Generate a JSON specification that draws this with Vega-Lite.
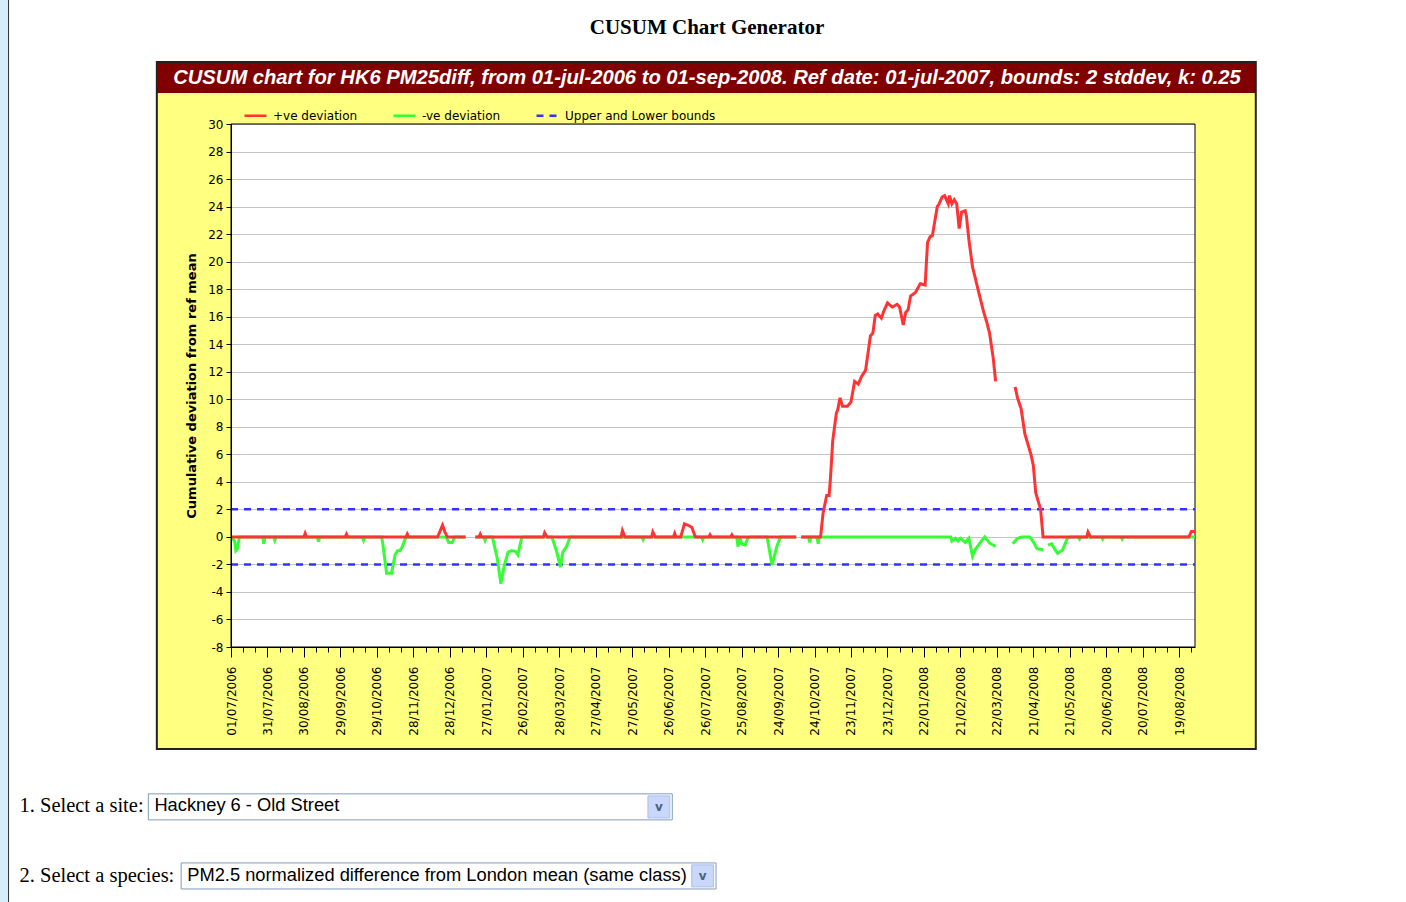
{
  "$schema": "https://vega.github.io/schema/vega-lite/v6.json",
  "width": 964,
  "height": 523,
  "autosize": {"type": "none"},
  "padding": {"left": 231, "top": 124, "right": 211, "bottom": 255},
  "background": "white",
  "config": {"view": {"fill": "white", "stroke": null}, "font": "DejaVu Sans"},
  "title": {
    "text": "CUSUM Chart Generator",
    "subtitle": "CUSUM chart for HK6 PM25diff, from 01-jul-2006 to 01-sep-2008. Ref date: 01-jul-2007, bounds: 2 stddev, k: 0.25",
    "anchor": "middle",
    "frame": "group",
    "dx": -6,
    "offset": -89.7,
    "font": "Liberation Serif",
    "fontSize": 21,
    "fontWeight": "bold",
    "color": "black",
    "subtitleFont": "Liberation Sans",
    "subtitleFontSize": 20.2,
    "subtitleFontStyle": "italic",
    "subtitleFontWeight": "bold",
    "subtitleColor": "white",
    "subtitlePadding": 30
  },
  "data": {"values": [{"part": "frame"}]},
  "datasets": {
    "cusum": [
      {"date": "2006-07-01", "series": "+ve deviation", "value": 0},
      {"date": "2006-08-30", "series": "+ve deviation", "value": 0},
      {"date": "2006-08-31", "series": "+ve deviation", "value": 0.25},
      {"date": "2006-09-01", "series": "+ve deviation", "value": 0},
      {"date": "2006-10-03", "series": "+ve deviation", "value": 0},
      {"date": "2006-10-04", "series": "+ve deviation", "value": 0.2},
      {"date": "2006-10-05", "series": "+ve deviation", "value": 0},
      {"date": "2006-11-22", "series": "+ve deviation", "value": 0},
      {"date": "2006-11-23", "series": "+ve deviation", "value": 0.2},
      {"date": "2006-11-24", "series": "+ve deviation", "value": 0},
      {"date": "2006-12-18", "series": "+ve deviation", "value": 0},
      {"date": "2006-12-22", "series": "+ve deviation", "value": 0.85},
      {"date": "2006-12-24", "series": "+ve deviation", "value": 0.35},
      {"date": "2006-12-26", "series": "+ve deviation", "value": 0},
      {"date": "2007-01-10", "series": "+ve deviation", "value": 0},
      {"date": "2007-01-14", "series": "+ve deviation", "value": null},
      {"date": "2007-01-18", "series": "+ve deviation", "value": 0},
      {"date": "2007-01-21", "series": "+ve deviation", "value": 0},
      {"date": "2007-01-22", "series": "+ve deviation", "value": 0.2},
      {"date": "2007-01-23", "series": "+ve deviation", "value": 0},
      {"date": "2007-03-15", "series": "+ve deviation", "value": 0},
      {"date": "2007-03-16", "series": "+ve deviation", "value": 0.3},
      {"date": "2007-03-18", "series": "+ve deviation", "value": 0},
      {"date": "2007-05-18", "series": "+ve deviation", "value": 0},
      {"date": "2007-05-19", "series": "+ve deviation", "value": 0.45},
      {"date": "2007-05-21", "series": "+ve deviation", "value": 0},
      {"date": "2007-06-12", "series": "+ve deviation", "value": 0},
      {"date": "2007-06-13", "series": "+ve deviation", "value": 0.35},
      {"date": "2007-06-15", "series": "+ve deviation", "value": 0},
      {"date": "2007-06-30", "series": "+ve deviation", "value": 0},
      {"date": "2007-07-01", "series": "+ve deviation", "value": 0.25},
      {"date": "2007-07-02", "series": "+ve deviation", "value": 0},
      {"date": "2007-07-06", "series": "+ve deviation", "value": 0},
      {"date": "2007-07-09", "series": "+ve deviation", "value": 0.95},
      {"date": "2007-07-12", "series": "+ve deviation", "value": 0.85},
      {"date": "2007-07-15", "series": "+ve deviation", "value": 0.7},
      {"date": "2007-07-18", "series": "+ve deviation", "value": 0},
      {"date": "2007-07-29", "series": "+ve deviation", "value": 0},
      {"date": "2007-07-30", "series": "+ve deviation", "value": 0.15},
      {"date": "2007-07-31", "series": "+ve deviation", "value": 0},
      {"date": "2007-08-16", "series": "+ve deviation", "value": 0},
      {"date": "2007-08-17", "series": "+ve deviation", "value": 0.15},
      {"date": "2007-08-18", "series": "+ve deviation", "value": 0},
      {"date": "2007-10-09", "series": "+ve deviation", "value": 0},
      {"date": "2007-10-11", "series": "+ve deviation", "value": null},
      {"date": "2007-10-13", "series": "+ve deviation", "value": 0},
      {"date": "2007-10-29", "series": "+ve deviation", "value": 0},
      {"date": "2007-10-31", "series": "+ve deviation", "value": 1.7},
      {"date": "2007-11-03", "series": "+ve deviation", "value": 3.0},
      {"date": "2007-11-05", "series": "+ve deviation", "value": 3.0},
      {"date": "2007-11-06", "series": "+ve deviation", "value": 4.1},
      {"date": "2007-11-08", "series": "+ve deviation", "value": 7.0},
      {"date": "2007-11-11", "series": "+ve deviation", "value": 9.0},
      {"date": "2007-11-12", "series": "+ve deviation", "value": 9.2},
      {"date": "2007-11-14", "series": "+ve deviation", "value": 10.1},
      {"date": "2007-11-16", "series": "+ve deviation", "value": 9.5},
      {"date": "2007-11-20", "series": "+ve deviation", "value": 9.5},
      {"date": "2007-11-23", "series": "+ve deviation", "value": 9.8},
      {"date": "2007-11-26", "series": "+ve deviation", "value": 11.3},
      {"date": "2007-11-29", "series": "+ve deviation", "value": 11.1},
      {"date": "2007-12-02", "series": "+ve deviation", "value": 11.7},
      {"date": "2007-12-05", "series": "+ve deviation", "value": 12.1},
      {"date": "2007-12-09", "series": "+ve deviation", "value": 14.6},
      {"date": "2007-12-11", "series": "+ve deviation", "value": 14.8},
      {"date": "2007-12-13", "series": "+ve deviation", "value": 16.1},
      {"date": "2007-12-15", "series": "+ve deviation", "value": 16.2},
      {"date": "2007-12-18", "series": "+ve deviation", "value": 15.9},
      {"date": "2007-12-20", "series": "+ve deviation", "value": 16.4},
      {"date": "2007-12-23", "series": "+ve deviation", "value": 17.0},
      {"date": "2007-12-27", "series": "+ve deviation", "value": 16.7},
      {"date": "2007-12-31", "series": "+ve deviation", "value": 16.9},
      {"date": "2008-01-02", "series": "+ve deviation", "value": 16.7},
      {"date": "2008-01-05", "series": "+ve deviation", "value": 15.4},
      {"date": "2008-01-07", "series": "+ve deviation", "value": 16.3},
      {"date": "2008-01-09", "series": "+ve deviation", "value": 16.5},
      {"date": "2008-01-11", "series": "+ve deviation", "value": 17.5},
      {"date": "2008-01-15", "series": "+ve deviation", "value": 17.75},
      {"date": "2008-01-19", "series": "+ve deviation", "value": 18.4},
      {"date": "2008-01-23", "series": "+ve deviation", "value": 18.3},
      {"date": "2008-01-25", "series": "+ve deviation", "value": 21.4},
      {"date": "2008-01-27", "series": "+ve deviation", "value": 21.8},
      {"date": "2008-01-29", "series": "+ve deviation", "value": 21.9},
      {"date": "2008-02-02", "series": "+ve deviation", "value": 24.0},
      {"date": "2008-02-03", "series": "+ve deviation", "value": 24.1},
      {"date": "2008-02-06", "series": "+ve deviation", "value": 24.7},
      {"date": "2008-02-08", "series": "+ve deviation", "value": 24.8},
      {"date": "2008-02-11", "series": "+ve deviation", "value": 24.2},
      {"date": "2008-02-12", "series": "+ve deviation", "value": 24.8},
      {"date": "2008-02-14", "series": "+ve deviation", "value": 24.2},
      {"date": "2008-02-16", "series": "+ve deviation", "value": 24.5},
      {"date": "2008-02-18", "series": "+ve deviation", "value": 24.2},
      {"date": "2008-02-20", "series": "+ve deviation", "value": 22.4},
      {"date": "2008-02-22", "series": "+ve deviation", "value": 23.6},
      {"date": "2008-02-25", "series": "+ve deviation", "value": 23.7},
      {"date": "2008-02-26", "series": "+ve deviation", "value": 23.3},
      {"date": "2008-02-28", "series": "+ve deviation", "value": 21.6},
      {"date": "2008-03-02", "series": "+ve deviation", "value": 19.6},
      {"date": "2008-03-04", "series": "+ve deviation", "value": 18.9},
      {"date": "2008-03-07", "series": "+ve deviation", "value": 17.8},
      {"date": "2008-03-11", "series": "+ve deviation", "value": 16.4},
      {"date": "2008-03-14", "series": "+ve deviation", "value": 15.5},
      {"date": "2008-03-16", "series": "+ve deviation", "value": 14.8},
      {"date": "2008-03-19", "series": "+ve deviation", "value": 13.0},
      {"date": "2008-03-21", "series": "+ve deviation", "value": 11.3},
      {"date": "2008-03-27", "series": "+ve deviation", "value": null},
      {"date": "2008-04-06", "series": "+ve deviation", "value": 10.9},
      {"date": "2008-04-08", "series": "+ve deviation", "value": 10.1},
      {"date": "2008-04-11", "series": "+ve deviation", "value": 9.3},
      {"date": "2008-04-14", "series": "+ve deviation", "value": 7.5},
      {"date": "2008-04-19", "series": "+ve deviation", "value": 6.0},
      {"date": "2008-04-21", "series": "+ve deviation", "value": 5.2},
      {"date": "2008-04-23", "series": "+ve deviation", "value": 3.2},
      {"date": "2008-04-27", "series": "+ve deviation", "value": 2.0},
      {"date": "2008-04-29", "series": "+ve deviation", "value": 0},
      {"date": "2008-06-04", "series": "+ve deviation", "value": 0},
      {"date": "2008-06-05", "series": "+ve deviation", "value": 0.35},
      {"date": "2008-06-07", "series": "+ve deviation", "value": 0},
      {"date": "2008-08-27", "series": "+ve deviation", "value": 0},
      {"date": "2008-08-29", "series": "+ve deviation", "value": 0.4},
      {"date": "2008-09-01", "series": "+ve deviation", "value": 0.4},
      {"date": "2006-07-01", "series": "-ve deviation", "value": 0},
      {"date": "2006-07-04", "series": "-ve deviation", "value": -0.3},
      {"date": "2006-07-05", "series": "-ve deviation", "value": -1.0},
      {"date": "2006-07-06", "series": "-ve deviation", "value": -0.9},
      {"date": "2006-07-08", "series": "-ve deviation", "value": 0},
      {"date": "2006-07-27", "series": "-ve deviation", "value": 0},
      {"date": "2006-07-28", "series": "-ve deviation", "value": -0.5},
      {"date": "2006-07-29", "series": "-ve deviation", "value": 0},
      {"date": "2006-08-05", "series": "-ve deviation", "value": 0},
      {"date": "2006-08-06", "series": "-ve deviation", "value": -0.25},
      {"date": "2006-08-07", "series": "-ve deviation", "value": 0},
      {"date": "2006-09-10", "series": "-ve deviation", "value": 0},
      {"date": "2006-09-11", "series": "-ve deviation", "value": -0.35},
      {"date": "2006-09-12", "series": "-ve deviation", "value": 0},
      {"date": "2006-10-17", "series": "-ve deviation", "value": 0},
      {"date": "2006-10-18", "series": "-ve deviation", "value": -0.25},
      {"date": "2006-10-19", "series": "-ve deviation", "value": 0},
      {"date": "2006-11-02", "series": "-ve deviation", "value": 0},
      {"date": "2006-11-03", "series": "-ve deviation", "value": -0.6},
      {"date": "2006-11-06", "series": "-ve deviation", "value": -2.65},
      {"date": "2006-11-10", "series": "-ve deviation", "value": -2.65},
      {"date": "2006-11-13", "series": "-ve deviation", "value": -1.3},
      {"date": "2006-11-15", "series": "-ve deviation", "value": -1.0},
      {"date": "2006-11-17", "series": "-ve deviation", "value": -1.0},
      {"date": "2006-11-19", "series": "-ve deviation", "value": -0.7},
      {"date": "2006-11-21", "series": "-ve deviation", "value": -0.2},
      {"date": "2006-11-23", "series": "-ve deviation", "value": 0},
      {"date": "2006-12-25", "series": "-ve deviation", "value": 0},
      {"date": "2006-12-27", "series": "-ve deviation", "value": -0.4},
      {"date": "2006-12-30", "series": "-ve deviation", "value": -0.4},
      {"date": "2007-01-01", "series": "-ve deviation", "value": 0},
      {"date": "2007-01-10", "series": "-ve deviation", "value": 0},
      {"date": "2007-01-14", "series": "-ve deviation", "value": null},
      {"date": "2007-01-18", "series": "-ve deviation", "value": 0},
      {"date": "2007-01-25", "series": "-ve deviation", "value": 0},
      {"date": "2007-01-26", "series": "-ve deviation", "value": -0.25},
      {"date": "2007-01-27", "series": "-ve deviation", "value": 0},
      {"date": "2007-02-01", "series": "-ve deviation", "value": 0},
      {"date": "2007-02-05", "series": "-ve deviation", "value": -1.55},
      {"date": "2007-02-08", "series": "-ve deviation", "value": -3.4},
      {"date": "2007-02-11", "series": "-ve deviation", "value": -2.0},
      {"date": "2007-02-14", "series": "-ve deviation", "value": -1.1},
      {"date": "2007-02-17", "series": "-ve deviation", "value": -1.0},
      {"date": "2007-02-20", "series": "-ve deviation", "value": -1.05},
      {"date": "2007-02-22", "series": "-ve deviation", "value": -1.3},
      {"date": "2007-02-25", "series": "-ve deviation", "value": -0.1},
      {"date": "2007-02-26", "series": "-ve deviation", "value": 0},
      {"date": "2007-03-22", "series": "-ve deviation", "value": 0},
      {"date": "2007-03-26", "series": "-ve deviation", "value": -1.1},
      {"date": "2007-03-29", "series": "-ve deviation", "value": -2.2},
      {"date": "2007-03-31", "series": "-ve deviation", "value": -1.1},
      {"date": "2007-04-03", "series": "-ve deviation", "value": -0.7},
      {"date": "2007-04-06", "series": "-ve deviation", "value": 0},
      {"date": "2007-06-04", "series": "-ve deviation", "value": 0},
      {"date": "2007-06-05", "series": "-ve deviation", "value": -0.2},
      {"date": "2007-06-06", "series": "-ve deviation", "value": 0},
      {"date": "2007-07-23", "series": "-ve deviation", "value": 0},
      {"date": "2007-07-24", "series": "-ve deviation", "value": -0.2},
      {"date": "2007-07-25", "series": "-ve deviation", "value": 0},
      {"date": "2007-08-21", "series": "-ve deviation", "value": 0},
      {"date": "2007-08-22", "series": "-ve deviation", "value": -0.7},
      {"date": "2007-08-24", "series": "-ve deviation", "value": -0.1},
      {"date": "2007-08-25", "series": "-ve deviation", "value": -0.5},
      {"date": "2007-08-28", "series": "-ve deviation", "value": -0.6},
      {"date": "2007-08-30", "series": "-ve deviation", "value": -0.1},
      {"date": "2007-09-01", "series": "-ve deviation", "value": 0},
      {"date": "2007-09-15", "series": "-ve deviation", "value": 0},
      {"date": "2007-09-19", "series": "-ve deviation", "value": -2.05},
      {"date": "2007-09-23", "series": "-ve deviation", "value": -0.7},
      {"date": "2007-09-26", "series": "-ve deviation", "value": 0},
      {"date": "2007-10-09", "series": "-ve deviation", "value": 0},
      {"date": "2007-10-11", "series": "-ve deviation", "value": null},
      {"date": "2007-10-13", "series": "-ve deviation", "value": 0},
      {"date": "2007-10-19", "series": "-ve deviation", "value": 0},
      {"date": "2007-10-20", "series": "-ve deviation", "value": -0.4},
      {"date": "2007-10-21", "series": "-ve deviation", "value": 0},
      {"date": "2007-10-26", "series": "-ve deviation", "value": 0},
      {"date": "2007-10-27", "series": "-ve deviation", "value": -0.5},
      {"date": "2007-10-28", "series": "-ve deviation", "value": 0},
      {"date": "2008-02-13", "series": "-ve deviation", "value": 0},
      {"date": "2008-02-14", "series": "-ve deviation", "value": -0.3},
      {"date": "2008-02-17", "series": "-ve deviation", "value": -0.1},
      {"date": "2008-02-19", "series": "-ve deviation", "value": -0.3},
      {"date": "2008-02-21", "series": "-ve deviation", "value": -0.1},
      {"date": "2008-02-25", "series": "-ve deviation", "value": -0.4},
      {"date": "2008-02-28", "series": "-ve deviation", "value": -0.1},
      {"date": "2008-03-02", "series": "-ve deviation", "value": -1.4},
      {"date": "2008-03-04", "series": "-ve deviation", "value": -0.95},
      {"date": "2008-03-08", "series": "-ve deviation", "value": -0.45},
      {"date": "2008-03-12", "series": "-ve deviation", "value": 0},
      {"date": "2008-03-16", "series": "-ve deviation", "value": -0.45},
      {"date": "2008-03-21", "series": "-ve deviation", "value": -0.7},
      {"date": "2008-03-27", "series": "-ve deviation", "value": null},
      {"date": "2008-04-04", "series": "-ve deviation", "value": -0.5},
      {"date": "2008-04-08", "series": "-ve deviation", "value": -0.1},
      {"date": "2008-04-12", "series": "-ve deviation", "value": 0},
      {"date": "2008-04-18", "series": "-ve deviation", "value": 0},
      {"date": "2008-04-21", "series": "-ve deviation", "value": -0.35},
      {"date": "2008-04-24", "series": "-ve deviation", "value": -0.85},
      {"date": "2008-04-29", "series": "-ve deviation", "value": -0.95},
      {"date": "2008-05-01", "series": "-ve deviation", "value": null},
      {"date": "2008-05-03", "series": "-ve deviation", "value": -0.6},
      {"date": "2008-05-06", "series": "-ve deviation", "value": -0.5},
      {"date": "2008-05-09", "series": "-ve deviation", "value": -0.95},
      {"date": "2008-05-11", "series": "-ve deviation", "value": -1.2},
      {"date": "2008-05-15", "series": "-ve deviation", "value": -0.95},
      {"date": "2008-05-19", "series": "-ve deviation", "value": -0.1},
      {"date": "2008-05-21", "series": "-ve deviation", "value": 0},
      {"date": "2008-05-28", "series": "-ve deviation", "value": 0},
      {"date": "2008-05-29", "series": "-ve deviation", "value": -0.15},
      {"date": "2008-05-30", "series": "-ve deviation", "value": 0},
      {"date": "2008-06-16", "series": "-ve deviation", "value": 0},
      {"date": "2008-06-17", "series": "-ve deviation", "value": -0.15},
      {"date": "2008-06-18", "series": "-ve deviation", "value": 0},
      {"date": "2008-07-02", "series": "-ve deviation", "value": 0},
      {"date": "2008-07-03", "series": "-ve deviation", "value": -0.15},
      {"date": "2008-07-04", "series": "-ve deviation", "value": 0},
      {"date": "2008-09-01", "series": "-ve deviation", "value": 0}
    ],
    "bounds": [
      {"date": "2006-07-01", "series": "Upper and Lower bounds", "line": "upper", "value": 2},
      {"date": "2008-09-01", "series": "Upper and Lower bounds", "line": "upper", "value": 2},
      {"date": "2006-07-01", "series": "Upper and Lower bounds", "line": "lower", "value": -2},
      {"date": "2008-09-01", "series": "Upper and Lower bounds", "line": "lower", "value": -2}
    ]
  },
  "resolve": {"axis": {"x": "independent", "y": "independent"}},
  "layer": [
    {
      "mark": {"type": "rect", "fill": "#d6eef8", "stroke": "#333333", "strokeWidth": 1},
      "encoding": {
        "x": {"datum": {"year": 2005, "month": 12, "date": 20, "utc": true}, "type": "temporal", "axis": null, "scale": {"type": "utc", "domain": [{"year": 2006, "month": 7, "date": 1, "utc": true}, {"year": 2008, "month": 9, "date": 1, "utc": true}]}},
        "x2": {"datum": {"year": 2005, "month": 12, "date": 30, "utc": true}},
        "y": {"datum": 39.1, "type": "quantitative", "axis": null, "scale": {"domain": [-8, 30], "nice": false, "zero": false}},
        "y2": {"datum": -27}
      }
    },
    {
      "mark": {"type": "rect", "fill": "#ffff80"},
      "encoding": {
        "x": {"datum": {"year": 2006, "month": 5, "date": 1, "utc": true}, "type": "temporal", "axis": null, "scale": {"type": "utc", "domain": [{"year": 2006, "month": 7, "date": 1, "utc": true}, {"year": 2008, "month": 9, "date": 1, "utc": true}]}},
        "x2": {"datum": {"year": 2008, "month": 10, "date": 21, "utc": true}},
        "y": {"datum": 30, "type": "quantitative", "axis": null, "scale": {"domain": [-8, 30], "nice": false, "zero": false}},
        "y2": {"datum": 32.25}
      }
    },
    {
      "mark": {"type": "rect", "fill": "#ffff80"},
      "encoding": {
        "x": {"datum": {"year": 2006, "month": 5, "date": 1, "utc": true}, "type": "temporal", "axis": null, "scale": {"type": "utc", "domain": [{"year": 2006, "month": 7, "date": 1, "utc": true}, {"year": 2008, "month": 9, "date": 1, "utc": true}]}},
        "x2": {"datum": {"year": 2008, "month": 10, "date": 21, "utc": true}},
        "y": {"datum": -15.41, "type": "quantitative", "axis": null, "scale": {"domain": [-8, 30], "nice": false, "zero": false}},
        "y2": {"datum": -8}
      }
    },
    {
      "mark": {"type": "rect", "fill": "#ffff80"},
      "encoding": {
        "x": {"datum": {"year": 2006, "month": 5, "date": 1, "utc": true}, "type": "temporal", "axis": null, "scale": {"type": "utc", "domain": [{"year": 2006, "month": 7, "date": 1, "utc": true}, {"year": 2008, "month": 9, "date": 1, "utc": true}]}},
        "x2": {"datum": {"year": 2006, "month": 7, "date": 1, "utc": true}},
        "y": {"datum": -8, "type": "quantitative", "axis": null, "scale": {"domain": [-8, 30], "nice": false, "zero": false}},
        "y2": {"datum": 30}
      }
    },
    {
      "mark": {"type": "rect", "fill": "#ffff80"},
      "encoding": {
        "x": {"datum": {"year": 2008, "month": 9, "date": 1, "utc": true}, "type": "temporal", "axis": null, "scale": {"type": "utc", "domain": [{"year": 2006, "month": 7, "date": 1, "utc": true}, {"year": 2008, "month": 9, "date": 1, "utc": true}]}},
        "x2": {"datum": {"year": 2008, "month": 10, "date": 21, "utc": true}},
        "y": {"datum": -8, "type": "quantitative", "axis": null, "scale": {"domain": [-8, 30], "nice": false, "zero": false}},
        "y2": {"datum": 30}
      }
    },
    {
      "mark": {"type": "rect", "fill": "#800000"},
      "encoding": {
        "x": {"datum": {"year": 2006, "month": 5, "date": 1, "utc": true}, "type": "temporal", "axis": null, "scale": {"type": "utc", "domain": [{"year": 2006, "month": 7, "date": 1, "utc": true}, {"year": 2008, "month": 9, "date": 1, "utc": true}]}},
        "x2": {"datum": {"year": 2008, "month": 10, "date": 21, "utc": true}},
        "y": {"datum": 32.25, "type": "quantitative", "axis": null, "scale": {"domain": [-8, 30], "nice": false, "zero": false}},
        "y2": {"datum": 34.5}
      }
    },
    {
      "mark": {"type": "rect", "fill": "transparent", "stroke": "#222222", "strokeWidth": 2},
      "encoding": {
        "x": {"datum": {"year": 2006, "month": 5, "date": 1, "utc": true}, "type": "temporal", "axis": null, "scale": {"type": "utc", "domain": [{"year": 2006, "month": 7, "date": 1, "utc": true}, {"year": 2008, "month": 9, "date": 1, "utc": true}]}},
        "x2": {"datum": {"year": 2008, "month": 10, "date": 21, "utc": true}},
        "y": {"datum": -15.41, "type": "quantitative", "axis": null, "scale": {"domain": [-8, 30], "nice": false, "zero": false}},
        "y2": {"datum": 34.5}
      }
    },
    {
      "mark": {"type": "rect", "fill": "transparent", "stroke": "black", "strokeWidth": 1},
      "encoding": {
        "x": {"datum": {"year": 2006, "month": 7, "date": 1, "utc": true}, "type": "temporal", "axis": null, "scale": {"type": "utc", "domain": [{"year": 2006, "month": 7, "date": 1, "utc": true}, {"year": 2008, "month": 9, "date": 1, "utc": true}]}},
        "x2": {"datum": {"year": 2008, "month": 9, "date": 1, "utc": true}},
        "y": {"datum": -8, "type": "quantitative", "axis": null, "scale": {"domain": [-8, 30], "nice": false, "zero": false}},
        "y2": {"datum": 30}
      }
    },
    {
      "mark": {"type": "rect", "fill": "white", "stroke": "#7f9db9", "strokeWidth": 1},
      "encoding": {
        "x": {"datum": {"year": 2006, "month": 4, "date": 24, "utc": true}, "type": "temporal", "axis": null, "scale": {"type": "utc", "domain": [{"year": 2006, "month": 7, "date": 1, "utc": true}, {"year": 2008, "month": 9, "date": 1, "utc": true}]}},
        "x2": {"datum": {"year": 2007, "month": 6, "date": 29, "utc": true}},
        "y": {"datum": -18.67, "type": "quantitative", "axis": null, "scale": {"domain": [-8, 30], "nice": false, "zero": false}},
        "y2": {"datum": -20.56}
      }
    },
    {
      "mark": {"type": "rect", "fill": "white", "stroke": "#7f9db9", "strokeWidth": 1},
      "encoding": {
        "x": {"datum": {"year": 2006, "month": 5, "date": 21, "utc": true}, "type": "temporal", "axis": null, "scale": {"type": "utc", "domain": [{"year": 2006, "month": 7, "date": 1, "utc": true}, {"year": 2008, "month": 9, "date": 1, "utc": true}]}},
        "x2": {"datum": {"year": 2007, "month": 8, "date": 4, "utc": true}},
        "y": {"datum": -23.69, "type": "quantitative", "axis": null, "scale": {"domain": [-8, 30], "nice": false, "zero": false}},
        "y2": {"datum": -25.58}
      }
    },
    {
      "mark": {"type": "rect", "fill": "#c9d8fa", "stroke": "#a9bde8", "strokeWidth": 1},
      "encoding": {
        "x": {"datum": {"year": 2007, "month": 6, "date": 9, "utc": true}, "type": "temporal", "axis": null, "scale": {"type": "utc", "domain": [{"year": 2006, "month": 7, "date": 1, "utc": true}, {"year": 2008, "month": 9, "date": 1, "utc": true}]}},
        "x2": {"datum": {"year": 2007, "month": 6, "date": 27, "utc": true}},
        "y": {"datum": -18.82, "type": "quantitative", "axis": null, "scale": {"domain": [-8, 30], "nice": false, "zero": false}},
        "y2": {"datum": -20.42}
      }
    },
    {
      "mark": {"type": "rect", "fill": "#c9d8fa", "stroke": "#a9bde8", "strokeWidth": 1},
      "encoding": {
        "x": {"datum": {"year": 2007, "month": 7, "date": 15, "utc": true}, "type": "temporal", "axis": null, "scale": {"type": "utc", "domain": [{"year": 2006, "month": 7, "date": 1, "utc": true}, {"year": 2008, "month": 9, "date": 1, "utc": true}]}},
        "x2": {"datum": {"year": 2007, "month": 8, "date": 2, "utc": true}},
        "y": {"datum": -23.83, "type": "quantitative", "axis": null, "scale": {"domain": [-8, 30], "nice": false, "zero": false}},
        "y2": {"datum": -25.43}
      }
    },
    {
      "mark": {"type": "text", "align": "center", "baseline": "middle", "font": "DejaVu Sans", "fontSize": 12, "fontWeight": "bold", "color": "#4d6185"},
      "encoding": {
        "x": {"datum": {"year": 2007, "month": 6, "date": 18, "utc": true}, "type": "temporal", "axis": null, "scale": {"type": "utc", "domain": [{"year": 2006, "month": 7, "date": 1, "utc": true}, {"year": 2008, "month": 9, "date": 1, "utc": true}]}},
        "y": {"datum": -19.62, "type": "quantitative", "axis": null, "scale": {"domain": [-8, 30], "nice": false, "zero": false}},
        "text": {"value": "v"}
      }
    },
    {
      "mark": {"type": "text", "align": "center", "baseline": "middle", "font": "DejaVu Sans", "fontSize": 12, "fontWeight": "bold", "color": "#4d6185"},
      "encoding": {
        "x": {"datum": {"year": 2007, "month": 7, "date": 24, "utc": true}, "type": "temporal", "axis": null, "scale": {"type": "utc", "domain": [{"year": 2006, "month": 7, "date": 1, "utc": true}, {"year": 2008, "month": 9, "date": 1, "utc": true}]}},
        "y": {"datum": -24.63, "type": "quantitative", "axis": null, "scale": {"domain": [-8, 30], "nice": false, "zero": false}},
        "text": {"value": "v"}
      }
    },
    {
      "mark": {"type": "text", "align": "left", "baseline": "middle", "font": "Liberation Serif", "fontSize": 20.5, "color": "black"},
      "encoding": {
        "x": {"datum": {"year": 2006, "month": 1, "date": 8, "utc": true}, "type": "temporal", "axis": null, "scale": {"type": "utc", "domain": [{"year": 2006, "month": 7, "date": 1, "utc": true}, {"year": 2008, "month": 9, "date": 1, "utc": true}]}},
        "y": {"datum": -19.55, "type": "quantitative", "axis": null, "scale": {"domain": [-8, 30], "nice": false, "zero": false}},
        "text": {"value": "1. Select a site:"}
      }
    },
    {
      "mark": {"type": "text", "align": "left", "baseline": "middle", "font": "Liberation Sans", "fontSize": 18.3, "color": "black"},
      "encoding": {
        "x": {"datum": {"year": 2006, "month": 4, "date": 29, "utc": true}, "type": "temporal", "axis": null, "scale": {"type": "utc", "domain": [{"year": 2006, "month": 7, "date": 1, "utc": true}, {"year": 2008, "month": 9, "date": 1, "utc": true}]}},
        "y": {"datum": -19.55, "type": "quantitative", "axis": null, "scale": {"domain": [-8, 30], "nice": false, "zero": false}},
        "text": {"value": "Hackney 6 - Old Street"}
      }
    },
    {
      "mark": {"type": "text", "align": "left", "baseline": "middle", "font": "Liberation Serif", "fontSize": 20.5, "color": "black"},
      "encoding": {
        "x": {"datum": {"year": 2006, "month": 1, "date": 8, "utc": true}, "type": "temporal", "axis": null, "scale": {"type": "utc", "domain": [{"year": 2006, "month": 7, "date": 1, "utc": true}, {"year": 2008, "month": 9, "date": 1, "utc": true}]}},
        "y": {"datum": -24.63, "type": "quantitative", "axis": null, "scale": {"domain": [-8, 30], "nice": false, "zero": false}},
        "text": {"value": "2. Select a species:"}
      }
    },
    {
      "mark": {"type": "text", "align": "left", "baseline": "middle", "font": "Liberation Sans", "fontSize": 18.3, "color": "black"},
      "encoding": {
        "x": {"datum": {"year": 2006, "month": 5, "date": 26, "utc": true}, "type": "temporal", "axis": null, "scale": {"type": "utc", "domain": [{"year": 2006, "month": 7, "date": 1, "utc": true}, {"year": 2008, "month": 9, "date": 1, "utc": true}]}},
        "y": {"datum": -24.63, "type": "quantitative", "axis": null, "scale": {"domain": [-8, 30], "nice": false, "zero": false}},
        "text": {"value": "PM2.5 normalized difference from London mean (same class)"}
      }
    },
    {
      "data": {"name": "bounds"},
      "mark": {"type": "line", "strokeWidth": 2.5, "invalid": "break-paths-filter-domains"},
      "encoding": {
        "x": {"field": "date", "type": "temporal",
          "scale": {"type": "utc", "domain": [{"year": 2006, "month": 7, "date": 1, "utc": true}, {"year": 2008, "month": 9, "date": 1, "utc": true}]},
          "axis": {"orient": "bottom", "labels": false, "domain": false, "grid": false, "title": null, "tickSize": 5, "tickColor": "black", "tickWidth": 1, "zindex": 1,
            "values": [
              {"year": 2006, "month": 7, "date": 11, "utc": true}, {"year": 2006, "month": 7, "date": 21, "utc": true},
              {"year": 2006, "month": 8, "date": 10, "utc": true}, {"year": 2006, "month": 8, "date": 20, "utc": true},
              {"year": 2006, "month": 9, "date": 9, "utc": true}, {"year": 2006, "month": 9, "date": 19, "utc": true},
              {"year": 2006, "month": 10, "date": 9, "utc": true}, {"year": 2006, "month": 10, "date": 19, "utc": true},
              {"year": 2006, "month": 11, "date": 8, "utc": true}, {"year": 2006, "month": 11, "date": 18, "utc": true},
              {"year": 2006, "month": 12, "date": 8, "utc": true}, {"year": 2006, "month": 12, "date": 18, "utc": true},
              {"year": 2007, "month": 1, "date": 7, "utc": true}, {"year": 2007, "month": 1, "date": 17, "utc": true},
              {"year": 2007, "month": 2, "date": 6, "utc": true}, {"year": 2007, "month": 2, "date": 16, "utc": true},
              {"year": 2007, "month": 3, "date": 8, "utc": true}, {"year": 2007, "month": 3, "date": 18, "utc": true},
              {"year": 2007, "month": 4, "date": 7, "utc": true}, {"year": 2007, "month": 4, "date": 17, "utc": true},
              {"year": 2007, "month": 5, "date": 7, "utc": true}, {"year": 2007, "month": 5, "date": 17, "utc": true},
              {"year": 2007, "month": 6, "date": 6, "utc": true}, {"year": 2007, "month": 6, "date": 16, "utc": true},
              {"year": 2007, "month": 7, "date": 6, "utc": true}, {"year": 2007, "month": 7, "date": 16, "utc": true},
              {"year": 2007, "month": 8, "date": 5, "utc": true}, {"year": 2007, "month": 8, "date": 15, "utc": true},
              {"year": 2007, "month": 9, "date": 4, "utc": true}, {"year": 2007, "month": 9, "date": 14, "utc": true},
              {"year": 2007, "month": 10, "date": 4, "utc": true}, {"year": 2007, "month": 10, "date": 14, "utc": true},
              {"year": 2007, "month": 11, "date": 3, "utc": true}, {"year": 2007, "month": 11, "date": 13, "utc": true},
              {"year": 2007, "month": 12, "date": 3, "utc": true}, {"year": 2007, "month": 12, "date": 13, "utc": true},
              {"year": 2008, "month": 1, "date": 2, "utc": true}, {"year": 2008, "month": 1, "date": 12, "utc": true},
              {"year": 2008, "month": 2, "date": 1, "utc": true}, {"year": 2008, "month": 2, "date": 11, "utc": true},
              {"year": 2008, "month": 3, "date": 2, "utc": true}, {"year": 2008, "month": 3, "date": 12, "utc": true},
              {"year": 2008, "month": 4, "date": 1, "utc": true}, {"year": 2008, "month": 4, "date": 11, "utc": true},
              {"year": 2008, "month": 5, "date": 1, "utc": true}, {"year": 2008, "month": 5, "date": 11, "utc": true},
              {"year": 2008, "month": 5, "date": 31, "utc": true}, {"year": 2008, "month": 6, "date": 10, "utc": true},
              {"year": 2008, "month": 6, "date": 30, "utc": true}, {"year": 2008, "month": 7, "date": 10, "utc": true},
              {"year": 2008, "month": 7, "date": 30, "utc": true}, {"year": 2008, "month": 8, "date": 9, "utc": true},
              {"year": 2008, "month": 8, "date": 29, "utc": true}
            ]}},
        "y": {"field": "value", "type": "quantitative",
          "scale": {"domain": [-8, 30], "nice": false, "zero": false},
          "axis": {"orient": "left", "grid": true, "gridColor": "#c4c4c4", "gridWidth": 1, "labels": false, "ticks": false, "domain": false, "title": null, "zindex": 0,
            "values": [-8, -6, -4, -2, 0, 2, 4, 6, 8, 10, 12, 14, 16, 18, 20, 22, 24, 26, 28, 30]}},
        "detail": {"field": "line"},
        "color": {"field": "series", "type": "nominal",
          "scale": {"domain": ["+ve deviation", "-ve deviation", "Upper and Lower bounds"], "range": ["#ff3333", "#33ff33", "#3333ff"]},
          "legend": {"title": null, "orient": "none", "legendX": 12, "legendY": -21, "direction": "horizontal", "symbolType": "stroke", "symbolSize": 484, "symbolStrokeWidth": 2.5, "labelFont": "DejaVu Sans", "labelFontSize": 12, "labelColor": "black", "labelOffset": 5, "columnPadding": 30, "padding": 0}},
        "strokeDash": {"field": "series", "type": "nominal",
          "scale": {"domain": ["+ve deviation", "-ve deviation", "Upper and Lower bounds"], "range": [[1, 0], [1, 0], [7, 6]]},
          "legend": {"title": null, "orient": "none", "legendX": 12, "legendY": -21, "direction": "horizontal", "symbolType": "stroke", "symbolSize": 484, "symbolStrokeWidth": 2.5, "labelFont": "DejaVu Sans", "labelFontSize": 12, "labelColor": "black", "labelOffset": 5, "columnPadding": 30, "padding": 0}}
      }
    },
    {
      "data": {"name": "cusum"},
      "transform": [{"filter": {"field": "series", "equal": "-ve deviation"}}],
      "mark": {"type": "line", "strokeWidth": 3, "invalid": "break-paths-filter-domains"},
      "encoding": {
        "x": {"field": "date", "type": "temporal", "axis": null,
          "scale": {"type": "utc", "domain": [{"year": 2006, "month": 7, "date": 1, "utc": true}, {"year": 2008, "month": 9, "date": 1, "utc": true}]}},
        "y": {"field": "value", "type": "quantitative", "axis": null,
          "scale": {"domain": [-8, 30], "nice": false, "zero": false}},
        "color": {"field": "series", "type": "nominal",
          "scale": {"domain": ["+ve deviation", "-ve deviation", "Upper and Lower bounds"], "range": ["#ff3333", "#33ff33", "#3333ff"]},
          "legend": {"title": null, "orient": "none", "legendX": 12, "legendY": -21, "direction": "horizontal", "symbolType": "stroke", "symbolSize": 484, "symbolStrokeWidth": 2.5, "labelFont": "DejaVu Sans", "labelFontSize": 12, "labelColor": "black", "labelOffset": 5, "columnPadding": 30, "padding": 0}},
        "strokeDash": {"field": "series", "type": "nominal",
          "scale": {"domain": ["+ve deviation", "-ve deviation", "Upper and Lower bounds"], "range": [[1, 0], [1, 0], [7, 6]]},
          "legend": {"title": null, "orient": "none", "legendX": 12, "legendY": -21, "direction": "horizontal", "symbolType": "stroke", "symbolSize": 484, "symbolStrokeWidth": 2.5, "labelFont": "DejaVu Sans", "labelFontSize": 12, "labelColor": "black", "labelOffset": 5, "columnPadding": 30, "padding": 0}}
      }
    },
    {
      "data": {"name": "cusum"},
      "transform": [{"filter": {"field": "series", "equal": "+ve deviation"}}],
      "mark": {"type": "line", "strokeWidth": 3, "invalid": "break-paths-filter-domains"},
      "encoding": {
        "x": {"field": "date", "type": "temporal",
          "scale": {"type": "utc", "domain": [{"year": 2006, "month": 7, "date": 1, "utc": true}, {"year": 2008, "month": 9, "date": 1, "utc": true}]},
          "axis": {"orient": "bottom", "format": "%d/%m/%Y", "labelAngle": 270, "labelAlign": "right", "labelBaseline": "middle", "labelFont": "DejaVu Sans", "labelFontSize": 12, "labelColor": "black", "labelPadding": 9, "labelOverlap": false, "labelFlush": false, "labelBound": false, "tickSize": 10, "tickColor": "black", "tickWidth": 1, "domainColor": "black", "domainWidth": 1, "grid": false, "title": null, "zindex": 1,
            "values": [
              {"year": 2006, "month": 7, "date": 1, "utc": true}, {"year": 2006, "month": 7, "date": 31, "utc": true},
              {"year": 2006, "month": 8, "date": 30, "utc": true}, {"year": 2006, "month": 9, "date": 29, "utc": true},
              {"year": 2006, "month": 10, "date": 29, "utc": true}, {"year": 2006, "month": 11, "date": 28, "utc": true},
              {"year": 2006, "month": 12, "date": 28, "utc": true}, {"year": 2007, "month": 1, "date": 27, "utc": true},
              {"year": 2007, "month": 2, "date": 26, "utc": true}, {"year": 2007, "month": 3, "date": 28, "utc": true},
              {"year": 2007, "month": 4, "date": 27, "utc": true}, {"year": 2007, "month": 5, "date": 27, "utc": true},
              {"year": 2007, "month": 6, "date": 26, "utc": true}, {"year": 2007, "month": 7, "date": 26, "utc": true},
              {"year": 2007, "month": 8, "date": 25, "utc": true}, {"year": 2007, "month": 9, "date": 24, "utc": true},
              {"year": 2007, "month": 10, "date": 24, "utc": true}, {"year": 2007, "month": 11, "date": 23, "utc": true},
              {"year": 2007, "month": 12, "date": 23, "utc": true}, {"year": 2008, "month": 1, "date": 22, "utc": true},
              {"year": 2008, "month": 2, "date": 21, "utc": true}, {"year": 2008, "month": 3, "date": 22, "utc": true},
              {"year": 2008, "month": 4, "date": 21, "utc": true}, {"year": 2008, "month": 5, "date": 21, "utc": true},
              {"year": 2008, "month": 6, "date": 20, "utc": true}, {"year": 2008, "month": 7, "date": 20, "utc": true},
              {"year": 2008, "month": 8, "date": 19, "utc": true}
            ]}},
        "y": {"field": "value", "type": "quantitative",
          "scale": {"domain": [-8, 30], "nice": false, "zero": false},
          "axis": {"orient": "left", "grid": false, "tickSize": 5, "tickColor": "black", "domainColor": "black", "labelFont": "DejaVu Sans", "labelFontSize": 12, "labelColor": "black", "labelPadding": 3, "labelExpr": "replace(datum.label, '\u2212', '-')", "title": "Cumulative deviation from ref mean", "titleFont": "DejaVu Sans", "titleFontSize": 13, "titleFontWeight": "bold", "titleColor": "black", "titlePadding": 9, "zindex": 1,
            "values": [-8, -6, -4, -2, 0, 2, 4, 6, 8, 10, 12, 14, 16, 18, 20, 22, 24, 26, 28, 30]}},
        "color": {"field": "series", "type": "nominal",
          "scale": {"domain": ["+ve deviation", "-ve deviation", "Upper and Lower bounds"], "range": ["#ff3333", "#33ff33", "#3333ff"]},
          "legend": {"title": null, "orient": "none", "legendX": 12, "legendY": -21, "direction": "horizontal", "symbolType": "stroke", "symbolSize": 484, "symbolStrokeWidth": 2.5, "labelFont": "DejaVu Sans", "labelFontSize": 12, "labelColor": "black", "labelOffset": 5, "columnPadding": 30, "padding": 0}},
        "strokeDash": {"field": "series", "type": "nominal",
          "scale": {"domain": ["+ve deviation", "-ve deviation", "Upper and Lower bounds"], "range": [[1, 0], [1, 0], [7, 6]]},
          "legend": {"title": null, "orient": "none", "legendX": 12, "legendY": -21, "direction": "horizontal", "symbolType": "stroke", "symbolSize": 484, "symbolStrokeWidth": 2.5, "labelFont": "DejaVu Sans", "labelFontSize": 12, "labelColor": "black", "labelOffset": 5, "columnPadding": 30, "padding": 0}}
      }
    }
  ]
}
